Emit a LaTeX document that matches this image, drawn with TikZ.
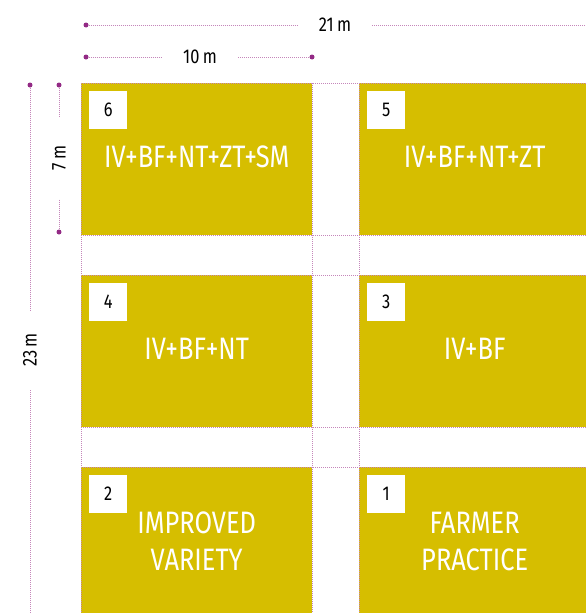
\documentclass[tikz,border=0pt]{standalone}
\usepackage{fontspec}
\setmainfont{Fira Sans}[FakeStretch=0.82]
\usetikzlibrary{positioning}
\definecolor{plotyellow}{HTML}{D6BE00}
\definecolor{dimpurple}{HTML}{932A85}
\definecolor{gridpink}{HTML}{C586BA}

\begin{document}
\begin{tikzpicture}[x=1pt, y=-1pt,
  plot/.style={fill=plotyellow, minimum width=231pt, minimum height=152pt, anchor=north west, inner sep=0pt},
  plotlabel/.style={text=white, font=\fontsize{31}{37}\selectfont, align=center},
  numbox/.style={fill=white, minimum size=38pt, inner sep=0pt, anchor=north west, font=\fontsize{20}{20}\selectfont},
  grid/.style={gridpink, densely dotted, line width=1pt},
  dimlabel/.style={font=\fontsize{20}{20}\selectfont, inner ysep=0pt, inner xsep=21pt},
  dimdot/.style={circle, fill=dimpurple, inner sep=0pt, minimum size=5pt}]

  \useasboundingbox (0,0) rectangle (586,613);
  \clip (0,0) rectangle (586,613);

  % plots with their numbers
  \foreach \n/\x/\y/\t in {6/81/83/{IV+BF+NT+ZT+SM}, 5/359/83/{IV+BF+NT+ZT}, 4/81/275/{IV+BF+NT}, 3/359/275/{IV+BF}, 2/81/467/{IMPROVED\\VARIETY}, 1/359/467/{FARMER\\PRACTICE}} {
    \node[plot] (p\n) at (\x,\y) {};
    \node[plotlabel] (t\n) at ([yshift=2pt]p\n.center) {\t};
    \node[numbox] (n\n) at ([xshift=8pt, yshift=-8pt]p\n.north west) {\n};
  }

  % dotted plot lines
  \draw[grid] (p6.north west) -- (p2.south west);
  \draw[grid] (p6.north east) -- (p2.south east);
  \draw[grid] (p5.north west) -- (p1.south west);
  \foreach \a/\b in {6/5, 4/3, 2/1} {
    \draw[grid] (p\a.north west) -- (p\b.north east);
    \draw[grid] (p\a.south west) -- (p\b.south east);
  }

  % dimensions
  \node[dimdot] (d21) at (86,25) {};
  \node[dimlabel] (l21) at (335,25) {21\,m};
  \coordinate (e21) at (586,25);
  \draw[grid] (d21) -- (l21) -- (e21);

  \node[dimdot] (d10a) at (86,57) {};
  \node[dimdot] (d10b) at (312,57) {};
  \node[dimlabel] (l10) at (200,57) {10\,m};
  \draw[grid] (d10a) -- (l10) -- (d10b);

  \node[dimdot] (d7a) at (59,85) {};
  \node[dimdot] (d7b) at (59,232) {};
  \node[dimlabel, rotate=90, inner xsep=29pt] (l7) at (59,158) {7\,m};
  \draw[grid] (d7a) -- (l7) -- (d7b);

  \node[dimdot] (d23) at (30,85) {};
  \node[dimlabel, rotate=90, inner xsep=23pt] (l23) at (30,350) {23\,m};
  \coordinate (e23) at (30,613);
  \draw[grid] (d23) -- (l23) -- (e23);
\end{tikzpicture}
\end{document}
